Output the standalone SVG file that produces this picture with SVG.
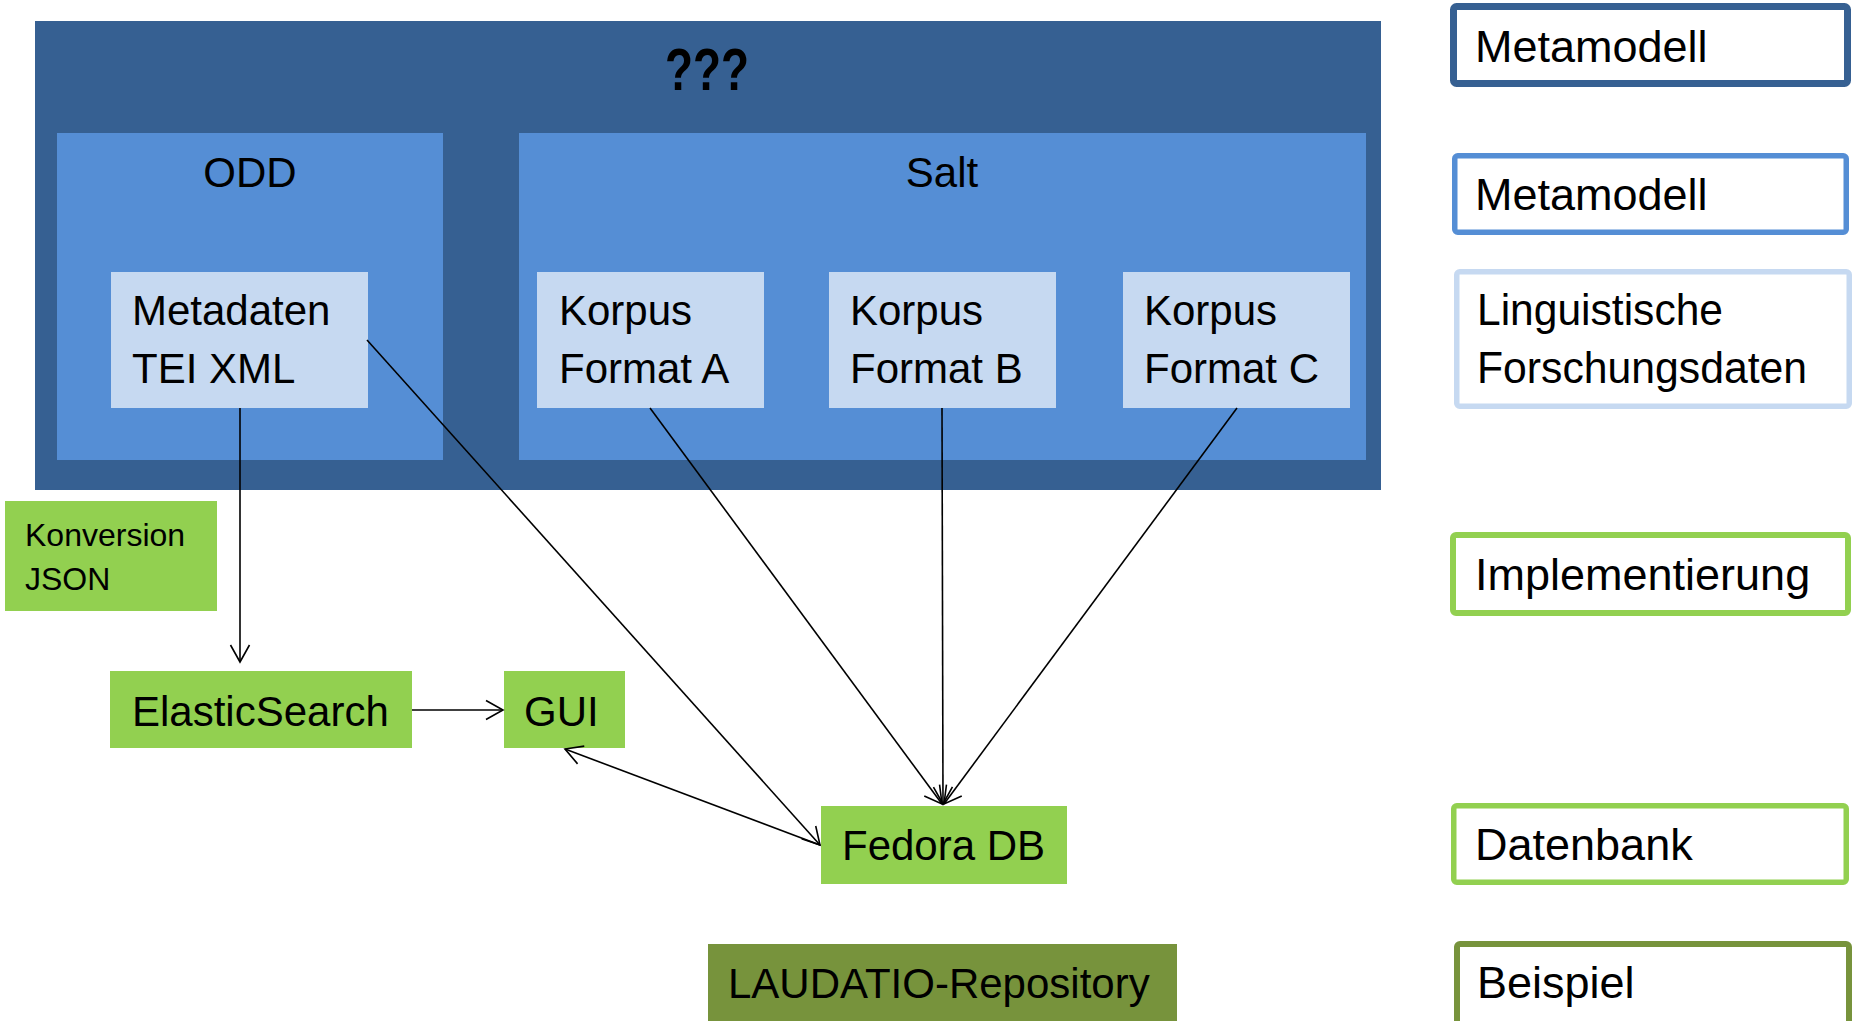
<svg xmlns="http://www.w3.org/2000/svg" width="1858" height="1021" viewBox="0 0 1858 1021">
<style>
.t{font-family:"Liberation Sans",Arial,sans-serif;fill:#000}
.n{font-size:42px}
.lg{font-size:45px}
.sm{font-size:32px}
.dk{fill:#366092}
.md{fill:#558ED5}
.lt{fill:#C6D9F1}
.gr{fill:#92D050}
.ol{fill:#77933C}
.leg{fill:#fff}
.conn{stroke:#000;stroke-width:1.6;fill:none;marker-end:url(#arr)}
</style>
<defs>
<marker id="arr" markerUnits="userSpaceOnUse" viewBox="-20 -12 22 24" markerWidth="22" markerHeight="24" refX="0" refY="0" orient="auto" overflow="visible">
<path d="M-17,-9.5 L0,0 L-17,9.5" fill="none" stroke="#000" stroke-width="1.6"/>
</marker>
</defs>
<rect width="1858" height="1021" fill="#fff"/>

<g id="outer">
<rect class="dk" x="35" y="21" width="1346" height="469"/>
<text class="t" x="707" y="90" font-size="59" font-weight="bold" text-anchor="middle" textLength="84" lengthAdjust="spacingAndGlyphs">???</text>
</g>
<g id="odd">
<rect class="md" x="57" y="133" width="386" height="327"/>
<text class="t n" x="250" y="187" text-anchor="middle">ODD</text>
</g>
<g id="salt">
<rect class="md" x="519" y="133" width="847" height="327"/>
<text class="t n" x="942" y="187" text-anchor="middle">Salt</text>
</g>
<g id="metadaten">
<rect class="lt" x="111" y="272" width="257" height="136"/>
<text class="t n" x="132" y="325">Metadaten</text>
<text class="t n" x="132" y="383">TEI XML</text>
</g>
<g id="korpusA">
<rect class="lt" x="537" y="272" width="227" height="136"/>
<text class="t n" x="559" y="325">Korpus</text>
<text class="t n" x="559" y="383">Format A</text>
</g>
<g id="korpusB">
<rect class="lt" x="829" y="272" width="227" height="136"/>
<text class="t n" x="850" y="325">Korpus</text>
<text class="t n" x="850" y="383">Format B</text>
</g>
<g id="korpusC">
<rect class="lt" x="1123" y="272" width="227" height="136"/>
<text class="t n" x="1144" y="325">Korpus</text>
<text class="t n" x="1144" y="383">Format C</text>
</g>
<g id="konversion">
<rect class="gr" x="5" y="501" width="212" height="110"/>
<text class="t sm" x="25" y="546">Konversion</text>
<text class="t sm" x="25" y="590">JSON</text>
</g>
<g id="elastic">
<rect class="gr" x="110" y="671" width="302" height="77"/>
<text class="t n" x="132" y="726">ElasticSearch</text>
</g>
<g id="gui">
<rect class="gr" x="504" y="671" width="121" height="77"/>
<text class="t n" x="524" y="726">GUI</text>
</g>
<g id="fedora">
<rect class="gr" x="821" y="806" width="246" height="78"/>
<text class="t n" x="842" y="860">Fedora DB</text>
</g>
<g id="laudatio">
<rect class="ol" x="708" y="944" width="469" height="80"/>
<text class="t n" x="728" y="998">LAUDATIO-Repository</text>
</g>

<g id="legend-metamodell1">
<rect class="leg" x="1453.5" y="6.5" width="394" height="77" rx="3" stroke="#366092" stroke-width="7"/>
<text class="t lg" x="1475" y="62">Metamodell</text>
</g>
<g id="legend-metamodell2">
<rect class="leg" x="1454.75" y="155.75" width="391.5" height="76.5" rx="3" stroke="#558ED5" stroke-width="5.5"/>
<text class="t lg" x="1475" y="210">Metamodell</text>
</g>
<g id="legend-daten">
<rect class="leg" x="1456.75" y="271.75" width="392.5" height="134.5" rx="3" stroke="#C6D9F1" stroke-width="5.5"/>
<text class="t lg" x="1477" y="325" textLength="246" lengthAdjust="spacingAndGlyphs">Linguistische</text>
<text class="t lg" x="1477" y="383" textLength="330" lengthAdjust="spacingAndGlyphs">Forschungsdaten</text>
</g>
<g id="legend-impl">
<rect class="leg" x="1453" y="535" width="395" height="78" rx="3" stroke="#92D050" stroke-width="6"/>
<text class="t lg" x="1475" y="590">Implementierung</text>
</g>
<g id="legend-db">
<rect class="leg" x="1453.75" y="805.75" width="392.5" height="76.5" rx="3" stroke="#92D050" stroke-width="5.5"/>
<text class="t lg" x="1475" y="860">Datenbank</text>
</g>
<g id="legend-beispiel">
<rect class="leg" x="1457" y="944" width="392" height="90" rx="3" stroke="#77933C" stroke-width="6"/>
<text class="t lg" x="1477" y="998">Beispiel</text>
</g>

<g id="connectors">
<path class="conn" d="M240,408 L240,662"/>
<path class="conn" d="M412,710 L503,710"/>
<path class="conn" d="M367,340 L820,845"/>
<path class="conn" d="M820,845 L565,749"/>
<path class="conn" d="M650,408 L942,804"/>
<path class="conn" d="M942,408 L943,804"/>
<path class="conn" d="M1237,408 L944,804"/>
</g>
</svg>
